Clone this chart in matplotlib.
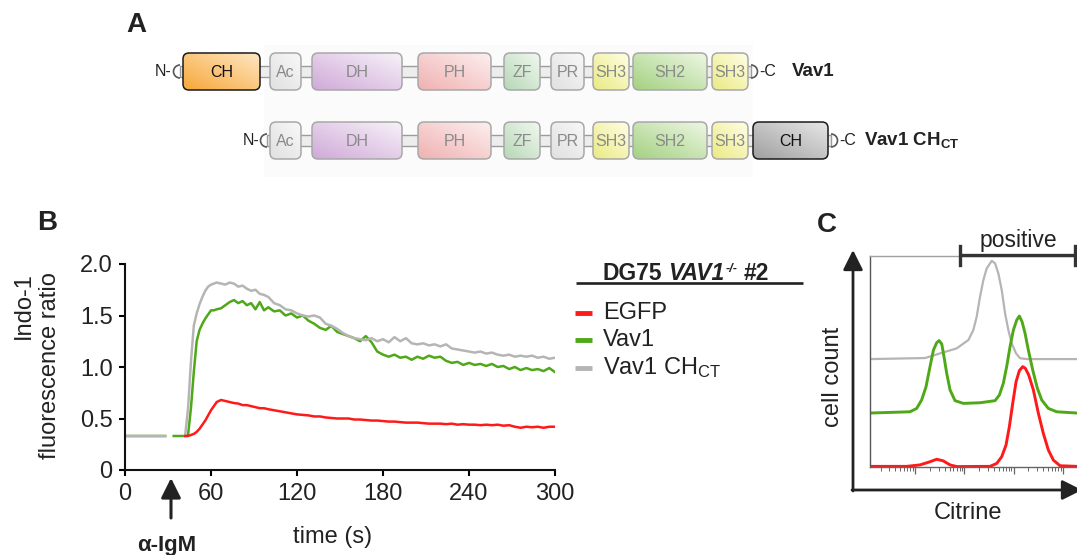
import numpy as np
import matplotlib.pyplot as plt
import matplotlib.colors as mcolors
from matplotlib.patches import FancyBboxPatch, Rectangle, Arc

plt.rcParams['font.family'] = ['Liberation Sans', 'DejaVu Sans']
plt.rcParams['mathtext.fontset'] = 'custom'
plt.rcParams['mathtext.rm'] = 'Liberation Sans'
plt.rcParams['mathtext.it'] = 'Liberation Sans:italic'
plt.rcParams['mathtext.bf'] = 'Liberation Sans:bold'

# ---- panel A: domain layout (px along the row) ----
domains = ["Ac", "DH", "PH", "ZF", "PR", "SH3", "SH2", "SH3"]
dom_left = [270, 312, 418, 504, 551, 593, 633, 712]
dom_right = [301, 402, 491, 540, 584, 629, 707, 748]
ch_row1 = (183, 260)
ch_row2 = (753, 828)
dom_colors = {
    "Ac": ("#e0e0e0", "#f8f8f8"),
    "DH": ("#d0aad9", "#f7f1f8"),
    "PH": ("#f0b2b2", "#fdeeee"),
    "ZF": ("#b6d8b6", "#f1f8f0"),
    "PR": ("#e0e0e0", "#f8f8f8"),
    "SH3": ("#eaea84", "#fffee4"),
    "SH2": ("#a4d182", "#edf7e3"),
}

# ---- panel B: Indo-1 ratio traces ----
time = [0, 8, 16, 24, 28, 30, 34, 38, 42, 44, 46, 48, 50, 52, 54, 56, 58, 60, 62, 64,
        67, 70, 73, 76, 79, 82, 85, 88, 91, 94, 97,
        100, 104, 108, 112, 116, 120, 124, 128, 132, 136, 140, 144, 148, 152, 156, 160,
        164, 168, 172, 176, 180, 184, 188, 192, 196, 200, 204, 208, 212, 216, 220, 224,
        228, 232, 236, 240, 244, 248, 252, 256, 260, 264, 268, 272, 276, 280, 284, 288,
        292, 296, 300]
nan = np.nan
egfp = [nan, nan, nan, nan, nan, nan, nan, nan, 0.33, 0.33, 0.34, 0.35, 0.37, 0.40, 0.44, 0.48, 0.53, 0.58, 0.62, 0.66,
        0.68, 0.67, 0.66, 0.65, 0.645, 0.63, 0.63, 0.62, 0.61, 0.60, 0.60,
        0.59, 0.58, 0.57, 0.56, 0.55, 0.54, 0.535, 0.53, 0.52, 0.52, 0.51, 0.505, 0.50, 0.50, 0.50, 0.49,
        0.49, 0.485, 0.48, 0.48, 0.475, 0.47, 0.47, 0.465, 0.46, 0.46, 0.46, 0.455, 0.45, 0.45, 0.45, 0.445,
        0.45, 0.44, 0.445, 0.44, 0.44, 0.435, 0.44, 0.435, 0.44, 0.43, 0.435, 0.42, 0.41, 0.42, 0.415, 0.42,
        0.41, 0.42, 0.42]
vav1 = [0.33, 0.33, 0.33, 0.33, 0.33, nan, 0.33, 0.33, 0.33, 0.34, 0.60, 0.95, 1.25, 1.36, 1.42, 1.47, 1.51, 1.55, 1.55, 1.56,
        1.57, 1.60, 1.63, 1.65, 1.62, 1.64, 1.60, 1.62, 1.56, 1.63, 1.55,
        1.58, 1.54, 1.55, 1.50, 1.52, 1.48, 1.50, 1.45, 1.42, 1.38, 1.36, 1.40, 1.34, 1.32, 1.30, 1.28,
        1.25, 1.30, 1.24, 1.15, 1.12, 1.10, 1.12, 1.09, 1.10, 1.07, 1.10, 1.08, 1.11, 1.09, 1.10, 1.06,
        1.04, 1.05, 1.02, 1.04, 1.02, 1.03, 1.01, 1.03, 1.00, 1.01, 0.98, 1.00, 0.97, 0.99, 0.97, 0.98,
        0.96, 0.99, 0.95]
vav1_ch = [0.33, 0.33, 0.33, 0.33, 0.33, nan, nan, nan, 0.34, 0.60, 1.05, 1.40, 1.52, 1.61, 1.68, 1.74, 1.78, 1.80, 1.81, 1.82,
           1.81, 1.80, 1.82, 1.81, 1.78, 1.79, 1.76, 1.74, 1.75, 1.71, 1.70,
           1.68, 1.62, 1.60, 1.56, 1.55, 1.52, 1.50, 1.49, 1.50, 1.48, 1.42, 1.40, 1.37, 1.33, 1.30, 1.28,
           1.27, 1.26, 1.28, 1.25, 1.27, 1.24, 1.29, 1.25, 1.28, 1.23, 1.22, 1.23, 1.21, 1.22, 1.20, 1.22,
           1.18, 1.17, 1.16, 1.15, 1.14, 1.15, 1.13, 1.14, 1.12, 1.11, 1.12, 1.10, 1.11, 1.10, 1.11, 1.09,
           1.10, 1.08, 1.09]
xticks_b = [0, 60, 120, 180, 240, 300]
yticks_b = [0, 0.5, 1.0, 1.5, 2.0]
ylabels_b = ["0", "0.5", "1.0", "1.5", "2.0"]

# ---- panel C: Citrine histograms (offset overlay) ----
gray_x = [1.22, 16, 32, 70, 121, 152, 178, 208, 243, 284, 360, 420, 490, 573, 670, 782, 914,
          1119, 1349, 1845, 19300, 40000]
gray_y = [0, 0.5, 2.7, 5.1, 9.1, 13.8, 20.2, 29.7, 37.6, 43.2, 46.8, 45.6, 40.8, 32.9, 21.8, 13.8, 7.5,
          2.7, 0.4, 0, 0, 0]
gray_off = 51.4
green_x = [1.22, 7.9, 10.8, 13.6, 16.7, 19.5, 23.6, 27.5, 30.7, 34.8, 38.7, 43.9, 51.3, 64.7, 95.5,
           208, 420, 514, 618, 722, 845, 987, 1156, 1306, 1481, 1703, 1988, 2437, 3027, 3715,
           5058, 7476, 19300, 40000]
green_y = [0, 0.6, 2.2, 6.2, 12.5, 20.5, 30, 33.5, 34.5, 32.9, 26.8, 18.9, 11, 5.9, 4.6,
           4.9, 5.9, 8.6, 14.2, 22.1, 31.6, 39.5, 44.3, 46.2, 43.5, 38, 30, 20.5, 11.8, 6.2,
           2.2, 0.6, 0, 0]
green_off = 25.7
red_x = [1.22, 6.8, 12.6, 20.1, 27.5, 37.5, 51.3, 70.2, 332, 454, 573, 701, 818, 957, 1119,
         1306, 1528, 1727, 2023, 2512, 3171, 4002, 5058, 6383, 8730, 19300, 40000]
red_y = [0.3, 0.3, 1, 2.5, 3.7, 2.9, 1, 0.2, 0.3, 1.7, 4.9, 10.5, 19.2, 30.3, 40.6,
         45.9, 47.8, 47, 43.8, 36.7, 25.6, 16, 8.1, 3.3, 0.6, 0.3, 0.3]

RED = "#ff1a1a"
GREEN = "#4fa818"
GRAY = "#b5b5b5"
TXT = "#222222"

W, H = 1077, 555
fig = plt.figure(figsize=(W / 100, H / 100), dpi=100)

bg = fig.add_axes([0, 0, 1, 1], zorder=5)
bg.set_xlim(0, W)
bg.set_ylim(H, 0)
bg.axis('off')


def grad_box(x0, x1, yc, name, dark, light, edge, tcol):
    h = 37
    y0 = yc - h / 2
    patch = FancyBboxPatch((x0, y0), x1 - x0, h, boxstyle='round,pad=0,rounding_size=6',
                           fc='none', ec=edge, lw=1.1, zorder=3)
    bg.add_patch(patch)
    ii, jj = np.mgrid[0:20, 0:40]
    t = (jj / 39 + 1 - ii / 19) / 2
    c0 = np.array(mcolors.to_rgb(dark))
    c1 = np.array(mcolors.to_rgb(light))
    img = c0 * (1 - t[..., None]) + c1 * t[..., None]
    im = bg.imshow(img, extent=[x0, x1, y0 + h, y0], origin='upper', aspect='auto',
                   zorder=2, interpolation='bilinear')
    im.set_clip_path(patch)
    bg.text((x0 + x1) / 2, yc + 1, name, ha='center', va='center', fontsize=11.5,
            color=tcol, zorder=4)


def protein_row(yc, boxes, label, lx):
    start = boxes[0][0] - 3
    end = boxes[-1][1] + 3
    bg.add_patch(Rectangle((start, yc - 5.5), end - start, 11, fc='#ededed', ec='#9c9c9c',
                           lw=1, zorder=1))
    bg.add_patch(Arc((start, yc), 13, 13, theta1=90, theta2=270, color='#555', lw=1.2, zorder=3))
    bg.add_patch(Arc((end, yc), 13, 13, theta1=-90, theta2=90, color='#555', lw=1.2, zorder=3))
    bg.text(start - 8, yc, "N-", ha='right', va='center', fontsize=11.5, color=TXT)
    bg.text(end + 8, yc, "-C", ha='left', va='center', fontsize=11.5, color=TXT)
    for x0, x1, name, dark, light, edge, tcol in boxes:
        grad_box(x0, x1, yc, name, dark, light, edge, tcol)
    bg.text(lx, yc, label, ha='left', va='center', fontsize=13.5, fontweight='bold', color=TXT)


def text_run(x, y, pieces, size):
    # pieces: (text, style, raise_px, scale, gap_after_px); y is the baseline
    r = fig.canvas.get_renderer()
    for s, style, dy, scale, gap in pieces:
        t = bg.text(x, y - dy, s, ha='left', va='baseline', fontsize=size * scale,
                    fontweight='bold', fontstyle=style, color=TXT)
        x += t.get_window_extent(renderer=r).width + gap


bg.add_patch(Rectangle((264, 45), 489, 132, fc='#fbfbfb', ec='none', zorder=0))

mid = [(l, r, n, dom_colors[n][0], dom_colors[n][1], '#a8a8a8', '#8a8a8a')
       for l, r, n in zip(dom_left, dom_right, domains)]
row1 = [(ch_row1[0], ch_row1[1], "CH", "#f7a83a", "#fee6c2", "#1a1a1a", "#111")] + mid
row2 = mid + [(ch_row2[0], ch_row2[1], "CH", "#a0a0a0", "#e6e6e6", "#1a1a1a", "#111")]
protein_row(71.5, row1, "Vav1", 792)
protein_row(140.5, row2, r"Vav1 CH$_{\mathbf{CT}}$", 864)

for lab, x, y in [("A", 136, 25), ("B", 47, 223), ("C", 827, 225)]:
    bg.text(x, y, lab, ha='center', va='center', fontsize=20, fontweight='bold', color=TXT)

# ---- panel B ----
ax = fig.add_axes([125 / W, (H - 470) / H, 430 / W, 206 / H])
ax.set_facecolor('none')
ax.plot(time, vav1, color=GREEN, lw=1.8)
ax.plot(time, vav1_ch, color=GRAY, lw=1.8)
ax.plot(time, egfp, color=RED, lw=1.8)
ax.set_xlim(0, 300)
ax.set_ylim(0, 2)
ax.set_xticks(xticks_b)
ax.set_yticks(yticks_b)
ax.set_yticklabels(ylabels_b)
for s in ['top', 'right']:
    ax.spines[s].set_visible(False)
for s in ['left', 'bottom']:
    ax.spines[s].set_linewidth(1.5)
    ax.spines[s].set_color('#111')
ax.tick_params(length=4, width=1.5, labelsize=17, labelcolor=TXT, pad=5)

bg.text(37, 366, "Indo-1\nfluorescence ratio", rotation=90, ha='center', va='center',
        multialignment='right', fontsize=17, color=TXT, linespacing=1.25)
bg.text(333, 537, "time (s)", ha='center', va='center', fontsize=17, color=TXT)
bg.text(167, 545, "α-IgM", ha='center', va='center', fontsize=16, fontweight='bold', color=TXT)
bg.annotate('', xy=(171, 478), xytext=(171, 518),
            arrowprops=dict(arrowstyle='-|>,head_length=0.8,head_width=0.4', lw=2.2,
                            color=TXT, shrinkA=0, shrinkB=0, mutation_scale=15))

# legend
text_run(603, 280, [("DG75", 'normal', 0, 1, 6),
                    ("VAV1", 'italic', 0, 1, 1),
                    ("-/-", 'italic', 8, 0.55, 6),
                    ("#2", 'normal', 0, 1, 0)], 16.5)
bg.plot([576, 803], [283, 283], color=TXT, lw=1.9, solid_capstyle='butt')
for col, lab, y in [(RED, "EGFP", 313), (GREEN, "Vav1", 340),
                    (GRAY, r"Vav1 CH$_{\mathrm{CT}}$", 368)]:
    bg.plot([575, 592], [y, y], color=col, lw=3.5, solid_capstyle='butt')
    bg.text(603, y, lab, ha='left', va='center', fontsize=17, color=TXT)

# ---- panel C ----
cax = fig.add_axes([870 / W, (H - 467) / H, 223 / W, 211 / H])
cax.set_facecolor('none')
cax.set_xscale('log')
cax.plot(gray_x, np.array(gray_y) + gray_off, color=GRAY, lw=1.6)
cax.plot(green_x, np.array(green_y) + green_off, color=GREEN, lw=2.1)
cax.plot(red_x, red_y, color=RED, lw=2.1)
cax.set_xlim(1.22, 40700)
cax.set_ylim(0, 100.5)
cax.set_yticks([])
cax.tick_params(axis='x', which='both', direction='out', color='#666', labelbottom=False)
cax.tick_params(axis='x', which='major', length=5, width=0.9)
cax.tick_params(axis='x', which='minor', length=3, width=0.7)
cax.spines['right'].set_visible(False)
cax.spines['left'].set_color('#555')
cax.spines['top'].set_color('#a0a0a0')
cax.spines['bottom'].set_color('#666')
for s in ['left', 'top', 'bottom']:
    cax.spines[s].set_linewidth(1)

bg.annotate('', xy=(853, 250), xytext=(853, 491), annotation_clip=False,
            arrowprops=dict(arrowstyle='-|>,head_length=0.8,head_width=0.4', lw=2,
                            color=TXT, shrinkA=0, shrinkB=0, mutation_scale=15))
bg.annotate('', xy=(1082, 490), xytext=(852, 490), annotation_clip=False,
            arrowprops=dict(arrowstyle='-|>,head_length=0.8,head_width=0.4', lw=2,
                            color=TXT, shrinkA=0, shrinkB=0, mutation_scale=15))
bg.plot([960, 1080], [255, 255], color='#333', lw=2.4, solid_capstyle='butt')
bg.plot([960, 960], [246, 265], color='#333', lw=2.4)
bg.plot([1075, 1075], [246, 265], color='#333', lw=2.4)
bg.text(1018, 240, "positive", ha='center', va='center', fontsize=16.5, color=TXT)
bg.text(833, 377, "cell count", rotation=90, ha='center', va='center', fontsize=17, color=TXT)
bg.text(968, 513, "Citrine", ha='center', va='center', fontsize=17, color=TXT)

fig.savefig('out.png', dpi=100)
